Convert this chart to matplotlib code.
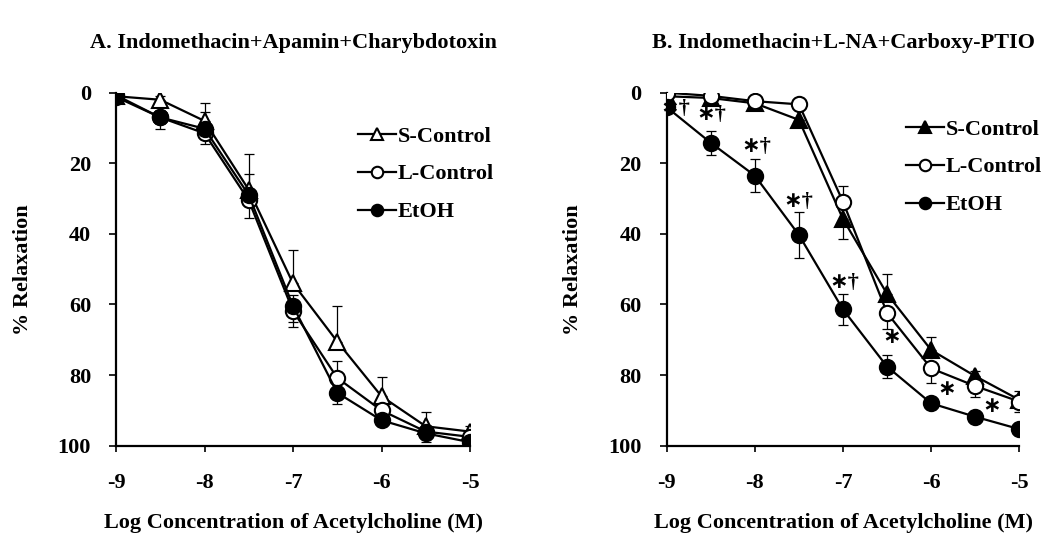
import numpy as np
import matplotlib
matplotlib.use("Agg")
import matplotlib.pyplot as plt

plt.rcParams['font.family'] = ['Liberation Serif', 'DejaVu Sans']
plt.rcParams['font.weight'] = 'bold'
plt.rcParams['axes.unicode_minus'] = False

# log concentration of acetylcholine
conc = [-9, -8.5, -8, -7.5, -7, -6.5, -6, -5.5, -5]

# panel A: Indomethacin + Apamin + Charybdotoxin
a_s = [1, 2, 8, 27.5, 54, 70.5, 86, 94.5, 96]
a_s_up = [0, 1, 5, 10, 9.5, 10, 5.5, 4, 1.5]
a_s_dn = [0, 0, 0, 0, 0, 0, 0, 0, 0]
a_l = [0.7, 7, 11.5, 30.5, 61.8, 80.8, 90, 96, 97.5]
a_l_up = [0, 0, 0, 0, 0, 4.8, 0, 0, 0]
a_l_dn = [0, 0, 3, 5, 3.1, 0, 1, 1, 1]
a_e = [1.2, 7, 10.2, 29, 60.4, 85, 92.8, 96.5, 99]
a_e_up = [0, 0, 4.7, 6, 3, 0, 0, 0, 0]
a_e_dn = [0, 3.3, 1.5, 0, 5.9, 3.3, 1, 2.5, 1]

# panel B: Indomethacin + L-NA + Carboxy-PTIO
b_s = [1, 1.5, 3, 7.7, 35.8, 57, 72.9, 80.3, 87]
b_s_up = [0, 0, 0, 0, 0, 5.7, 3.8, 1.5, 0]
b_s_dn = [0, 0, 0, 0, 5.7, 0, 0, 0, 0]
b_l = [0, 0.9, 2.4, 3.3, 30.9, 62.4, 78.1, 83.1, 87.5]
b_l_up = [0, 0, 0, 0, 4.6, 0, 0, 0, 3]
b_l_dn = [0, 0, 0, 0, 0, 4.6, 4, 3, 3]
b_e = [4.1, 14.2, 23.5, 40.3, 61.4, 77.6, 88, 91.8, 95.3]
b_e_up = [0, 3.4, 4.7, 6.5, 4.5, 3.3, 0, 0, 0]
b_e_dn = [0, 3.4, 4.7, 6.5, 4.5, 3.1, 0, 0, 0]

# significance marks in panel B
sig_x = [-8.9, -8.49, -7.98, -7.51, -6.98, -6.45, -5.82, -5.31]
sig_y = [4.5, 6.3, 15.5, 31, 53.9, 69.6, 84.2, 89]
sig_txt = ['∗†', '∗†', '∗†', '∗†', '∗†', '∗', '∗', '∗']

labels = ['S-Control', 'L-Control', 'EtOH']
fs = 16

fig = plt.figure(figsize=(10.44, 5.38), dpi=100)
ax1 = fig.add_axes([116/1044, 1-445.7/538, 354/1044, 353/538])
ax2 = fig.add_axes([666.7/1044, 1-445.7/538, 352.6/1044, 353/538])


def panel(ax, series, s_face, title, legpos):
    for y, up, dn in series:
        ax.errorbar(conc, y, yerr=[up, dn], fmt='none', ecolor='black',
                    elinewidth=0.9, capsize=3.5, capthick=0.9, zorder=2)
    styles = [('^', s_face, 11), ('o', 'white', 11), ('o', 'black', 11)]
    hs = []
    for (y, up, dn), (m, fc, ms), lab in zip(series, styles, labels):
        h, = ax.plot(conc, y, color='black', lw=1.6, marker=m, ms=ms,
                     mfc=fc, mec='black', mew=1.5, label=lab, zorder=3)
        hs.append(h)
    ax.set_xlim(-9, -5)
    ax.set_ylim(100, 0)
    ax.set_xticks([-9, -8, -7, -6, -5])
    ax.set_yticks([0, 20, 40, 60, 80, 100])
    ax.tick_params(axis='y', direction='out', length=5, width=1.2, pad=13, labelsize=fs)
    ax.tick_params(axis='x', direction='out', length=4, width=1.2, pad=16, labelsize=fs)
    for sp in ['top', 'right']:
        ax.spines[sp].set_visible(False)
    for sp in ['left', 'bottom']:
        ax.spines[sp].set_linewidth(1.6)
    ax.set_xlabel('Log Concentration of Acetylcholine (M)', fontsize=fs, fontweight='bold', labelpad=14)
    ax.set_ylabel('% Relaxation', fontsize=fs, fontweight='bold', labelpad=18)
    ax.set_title(title, fontsize=fs, fontweight='bold', pad=32)
    ax.legend(handles=hs, loc='upper left', bbox_to_anchor=legpos,
              bbox_transform=fig.transFigure, frameon=False, fontsize=fs,
              handlelength=1.7, handletextpad=0.1, labelspacing=0.78,
              borderpad=0, borderaxespad=0, markerscale=0.75)


panel(ax1, [(a_s, a_s_up, a_s_dn), (a_l, a_l_up, a_l_dn), (a_e, a_e_up, a_e_dn)],
      'white', 'A. Indomethacin+Apamin+Charybdotoxin', (358/1044, 1-126/538))
panel(ax2, [(b_s, b_s_up, b_s_dn), (b_l, b_l_up, b_l_dn), (b_e, b_e_up, b_e_dn)],
      'black', 'B. Indomethacin+L-NA+Carboxy-PTIO', (906/1044, 1-119/538))

for x, y, t in zip(sig_x, sig_y, sig_txt):
    ax2.text(x, y, t, fontsize=fs, ha='center', va='center', zorder=1)

fig.savefig('out.png', dpi=100)
